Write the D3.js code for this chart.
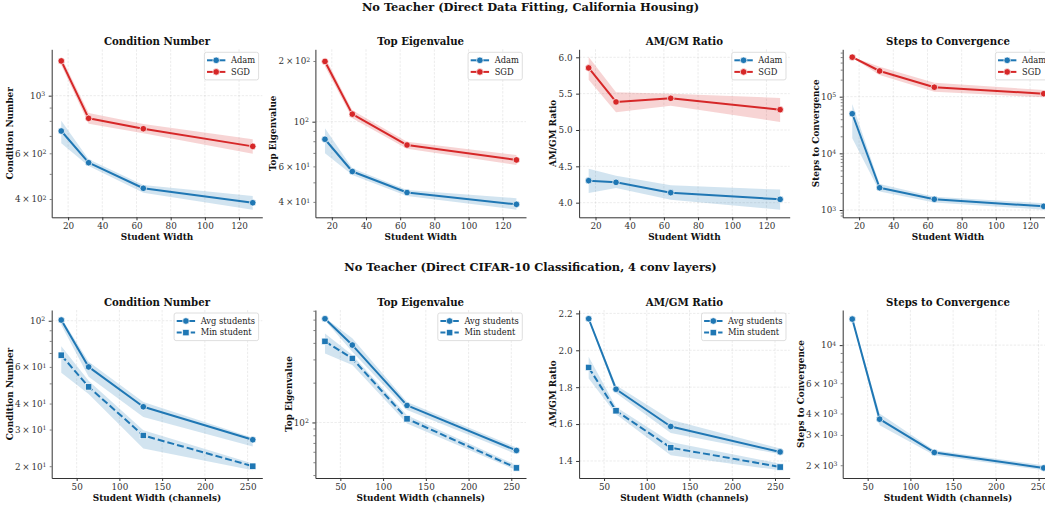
<!DOCTYPE html>
<html>
<head>
<meta charset="utf-8">
<script src="https://cdn.jsdelivr.net/npm/d3@7"></script>
<style>
  body { margin: 0; background: #fff; }
  svg { font-family: "DejaVu Serif", serif; }
</style>
</head>
<body>
<div id="chart"></div>
<script>
// student widths
var widthsHousing = [16, 32, 64, 128];
var widthsCifar = [32, 64, 128, 256];

// x tick labels
var xTicksHousing = [20, 40, 60, 80, 100, 120];
var xTicksCifar = [50, 100, 150, 200, 250];

// California housing: condition number
var condAdam = [731, 552, 440, 387];
var condAdamLo = [656, 536, 423, 364];
var condAdamHi = [801, 569, 453, 411];
var condSgd = [1361, 818, 746, 638];
var condSgdLo = [1310, 780, 716, 597];
var condSgdHi = [1410, 858, 778, 680];

// California housing: top eigenvalue
var eigAdam = [81.8, 56.6, 44.5, 38.9];
var eigAdamLo = [69.7, 54.4, 42.8, 36.6];
var eigAdamHi = [92.7, 58.8, 45.8, 41.7];
var eigSgd = [199, 109, 76.6, 64.6];
var eigSgdLo = [188, 104, 73.3, 61];
var eigSgdHi = [209.5, 114, 79.6, 68.4];

// California housing: AM/GM ratio
var amgmAdam = [4.303, 4.28, 4.138, 4.046];
var amgmAdamLo = [4.134, 4.203, 4.042, 3.904];
var amgmAdamHi = [4.468, 4.372, 4.239, 4.18];
var amgmSgd = [5.854, 5.386, 5.436, 5.28];
var amgmSgdLo = [5.69, 5.243, 5.335, 5.111];
var amgmSgdHi = [6.005, 5.518, 5.50, 5.441];

// California housing: steps to convergence
var stepsAdam = [50000, 2470, 1545, 1161];
var stepsAdamLo = [18500, 2113, 1352, 1014];
var stepsAdamHi = [74000, 2880, 1722, 1318];
var stepsSgd = [498000, 284000, 147000, 113000];
var stepsSgdLo = [485000, 241000, 122000, 97500];
var stepsSgdHi = [503000, 338000, 177000, 131000];

// CIFAR-10: condition number
var cifCondAvg = [100.8, 60, 38.6, 26.8];
var cifCondAvgLo = [95.3, 53.8, 34.5, 24.9];
var cifCondAvgHi = [103.5, 63.5, 40.7, 27.4];
var cifCondMin = [68.3, 48.1, 28.1, 20];
var cifCondMinLo = [56.2, 44.5, 24.3, 19.1];
var cifCondMinHi = [75.5, 51.5, 29.8, 20.6];

// CIFAR-10: top eigenvalue
var cifEigAvg = [609, 385, 134.5, 61.4];
var cifEigAvgLo = [590, 343, 124, 57.5];
var cifEigAvgHi = [621, 433, 143, 64.7];
var cifEigMin = [411, 305, 106.5, 45.3];
var cifEigMinLo = [333, 272, 98.3, 43.4];
var cifEigMinHi = [472, 324, 113.5, 47.5];

// CIFAR-10: AM/GM ratio
var cifAmgmAvg = [2.171, 1.789, 1.587, 1.449];
var cifAmgmAvgLo = [2.16, 1.769, 1.552, 1.436];
var cifAmgmAvgHi = [2.177, 1.811, 1.624, 1.467];
var cifAmgmMin = [1.907, 1.672, 1.472, 1.367];
var cifAmgmMinLo = [1.847, 1.653, 1.431, 1.349];
var cifAmgmMinHi = [1.965, 1.693, 1.503, 1.385];

// CIFAR-10: steps to convergence
var cifStepsAvg = [14170, 3707, 2373, 1929];
var cifStepsAvgLo = [13890, 3420, 2285, 1867];
var cifStepsAvgHi = [14450, 4000, 2445, 2000];

var suptitles = ["No Teacher (Direct Data Fitting, California Housing)",
                 "No Teacher (Direct CIFAR-10 Classification, 4 conv layers)"];

var blue = "#1f77b4", red = "#d62728";

// layout
var colLeft = [51.7, 315.4, 579.1, 842.7];
var plotW = 210.6;
var rowTop = [49.3, 310];
var plotH = 168;
var figCenter = 530.5;

function ser(name, color, y, lo, hi, marker, dashed) {
  return {name: name, color: color, y: y, lo: lo, hi: hi, marker: marker, dashed: dashed};
}

var panels = [
  {row: 0, col: 0, title: "Condition Number", ylabel: "Condition Number", xlabel: "Student Width", log: true, xs: widthsHousing, xt: xTicksHousing,
   series: [ser("Adam", blue, condAdam, condAdamLo, condAdamHi, "circle", false),
            ser("SGD", red, condSgd, condSgdLo, condSgdHi, "circle", false)], legend: true},
  {row: 0, col: 1, title: "Top Eigenvalue", ylabel: "Top Eigenvalue", xlabel: "Student Width", log: true, xs: widthsHousing, xt: xTicksHousing,
   series: [ser("Adam", blue, eigAdam, eigAdamLo, eigAdamHi, "circle", false),
            ser("SGD", red, eigSgd, eigSgdLo, eigSgdHi, "circle", false)], legend: true},
  {row: 0, col: 2, title: "AM/GM Ratio", ylabel: "AM/GM Ratio", xlabel: "Student Width", log: false, xs: widthsHousing, xt: xTicksHousing,
   series: [ser("Adam", blue, amgmAdam, amgmAdamLo, amgmAdamHi, "circle", false),
            ser("SGD", red, amgmSgd, amgmSgdLo, amgmSgdHi, "circle", false)], legend: true},
  {row: 0, col: 3, title: "Steps to Convergence", ylabel: "Steps to Convergence", xlabel: "Student Width", log: true, xs: widthsHousing, xt: xTicksHousing,
   series: [ser("Adam", blue, stepsAdam, stepsAdamLo, stepsAdamHi, "circle", false),
            ser("SGD", red, stepsSgd, stepsSgdLo, stepsSgdHi, "circle", false)], legend: true},
  {row: 1, col: 0, title: "Condition Number", ylabel: "Condition Number", xlabel: "Student Width (channels)", log: true, xs: widthsCifar, xt: xTicksCifar,
   series: [ser("Avg students", blue, cifCondAvg, cifCondAvgLo, cifCondAvgHi, "circle", false),
            ser("Min student", blue, cifCondMin, cifCondMinLo, cifCondMinHi, "square", true)], legend: true},
  {row: 1, col: 1, title: "Top Eigenvalue", ylabel: "Top Eigenvalue", xlabel: "Student Width (channels)", log: true, xs: widthsCifar, xt: xTicksCifar,
   series: [ser("Avg students", blue, cifEigAvg, cifEigAvgLo, cifEigAvgHi, "circle", false),
            ser("Min student", blue, cifEigMin, cifEigMinLo, cifEigMinHi, "square", true)], legend: true},
  {row: 1, col: 2, title: "AM/GM Ratio", ylabel: "AM/GM Ratio", xlabel: "Student Width (channels)", log: false, xs: widthsCifar, xt: xTicksCifar,
   series: [ser("Avg students", blue, cifAmgmAvg, cifAmgmAvgLo, cifAmgmAvgHi, "circle", false),
            ser("Min student", blue, cifAmgmMin, cifAmgmMinLo, cifAmgmMinHi, "square", true)], legend: true},
  {row: 1, col: 3, title: "Steps to Convergence", ylabel: "Steps to Convergence", xlabel: "Student Width (channels)", log: true, xs: widthsCifar, xt: xTicksCifar,
   series: [ser("Avg", blue, cifStepsAvg, cifStepsAvgLo, cifStepsAvgHi, "circle", false)], legend: false}
];

var tickFont = 8.8, labelFont = 8.9, titleFont = 10.2, legendFont = 8.3;

var svg = d3.select("#chart").append("svg")
    .attr("width", 1045)
    .attr("height", 505);

// figure titles
suptitles.forEach(function(t, i) {
  svg.append("text")
      .attr("x", figCenter)
      .attr("y", rowTop[i] - 38.6)
      .attr("text-anchor", "middle")
      .attr("font-weight", "bold")
      .attr("font-size", 11.4)
      .attr("fill", "#111")
      .text(t);
});

// matplotlib-style log ticks: every k * 10^e inside the domain
function logTicks(lo, hi) {
  var out = [];
  for (var e = Math.floor(Math.log10(lo)); e <= Math.ceil(Math.log10(hi)); e++) {
    for (var k = 1; k < 10; k++) {
      var v = k * Math.pow(10, e);
      if (v >= lo * 0.9999 && v <= hi * 1.0001) out.push({v: v, k: k, e: e});
    }
  }
  return out;
}

function drawMarker(g, shape, x, y, color) {
  if (shape === "square") {
    g.append("rect")
        .attr("x", x - 3.2).attr("y", y - 3.2)
        .attr("width", 6.4).attr("height", 6.4)
        .attr("fill", color).attr("stroke", "#fff").attr("stroke-width", 0.7);
  } else {
    g.append("circle")
        .attr("cx", x).attr("cy", y).attr("r", 3.3)
        .attr("fill", color).attr("stroke", "#fff").attr("stroke-width", 0.7);
  }
}

function gridStyle(sel) {
  sel.attr("stroke", "#b0b0b0").attr("stroke-opacity", 0.35)
     .attr("stroke-width", 0.7).attr("stroke-dasharray", "2.4,1.4");
}

panels.forEach(function(p) {
  var left = colLeft[p.col], top = rowTop[p.row];
  var g = svg.append("g").attr("transform", "translate(" + left + "," + top + ")");

  // x scale with 5% margins (like matplotlib)
  var xmin = d3.min(p.xs), xmax = d3.max(p.xs), xpad = (xmax - xmin) * 0.05;
  var x = d3.scaleLinear().domain([xmin - xpad, xmax + xpad]).range([0, plotW]);

  // y scale from band extents with 5% margins in the scale's own space
  var lo = d3.min(p.series, function(s) { return d3.min(s.lo); });
  var hi = d3.max(p.series, function(s) { return d3.max(s.hi); });
  var y;
  if (p.log) {
    var l0 = Math.log10(lo), l1 = Math.log10(hi), lp = (l1 - l0) * 0.05;
    y = d3.scaleLog().domain([Math.pow(10, l0 - lp), Math.pow(10, l1 + lp)]).range([plotH, 0]);
  } else {
    var pad = (hi - lo) * 0.05;
    y = d3.scaleLinear().domain([lo - pad, hi + pad]).range([plotH, 0]);
  }
  var dom = y.domain();

  var yMajor, yMinor = [], yLabels = {};
  if (p.log) {
    var all = logTicks(dom[0], dom[1]);
    var numdec = Math.log10(dom[1]) - Math.log10(dom[0]);
    var labelSet = numdec > 1 ? [1] : (numdec > 0.4 ? [1, 2, 3, 4, 6] : [1, 2, 3, 4, 5, 6, 7, 8, 9]);
    yMajor = all.filter(function(t) { return t.k === 1; });
    yMinor = all.filter(function(t) { return t.k !== 1; });
    all.forEach(function(t) { if (labelSet.indexOf(t.k) >= 0) yLabels[t.v] = t; });
  } else {
    yMajor = y.ticks(5).map(function(v) { return {v: v}; });
  }

  // grid
  g.append("g").selectAll("line")
      .data(p.xt)
    .enter().append("line")
      .attr("x1", function(d) { return x(d); }).attr("x2", function(d) { return x(d); })
      .attr("y1", 0).attr("y2", plotH)
      .call(gridStyle);
  g.append("g").selectAll("line")
      .data(yMajor)
    .enter().append("line")
      .attr("x1", 0).attr("x2", plotW)
      .attr("y1", function(d) { return y(d.v); }).attr("y2", function(d) { return y(d.v); })
      .call(gridStyle);

  // bands, lines, markers
  p.series.forEach(function(s) {
    var pts = p.xs.map(function(xv, i) { return {x: xv, lo: s.lo[i], hi: s.hi[i]}; });
    g.append("path")
        .datum(pts)
        .attr("fill", s.color).attr("fill-opacity", 0.2)
        .attr("d", d3.area()
          .x(function(d) { return x(d.x); })
          .y0(function(d) { return y(d.lo); })
          .y1(function(d) { return y(d.hi); }));
  });
  p.series.forEach(function(s) {
    var pts = p.xs.map(function(xv, i) { return {x: xv, y: s.y[i]}; });
    g.append("path")
        .datum(pts)
        .attr("fill", "none").attr("stroke", s.color).attr("stroke-width", 2)
        .attr("stroke-linejoin", "round")
        .attr("stroke-dasharray", s.dashed ? "7,3" : null)
        .attr("d", d3.line()
          .x(function(d) { return x(d.x); })
          .y(function(d) { return y(d.y); }));
    pts.forEach(function(d) { drawMarker(g, s.marker, x(d.x), y(d.y), s.color); });
  });

  // axes
  var xAxis = g.append("g")
      .attr("transform", "translate(0," + plotH + ")")
      .call(d3.axisBottom(x).tickValues(p.xt).tickSize(3).tickSizeOuter(0).tickPadding(2.3));
  xAxis.select(".domain").attr("stroke", "#333");
  xAxis.selectAll(".tick line").attr("stroke", "#333");
  xAxis.selectAll(".tick text").attr("font-size", tickFont).attr("fill", "#333")
      .attr("font-family", "DejaVu Serif, serif");

  var yAxisG = g.append("g");
  if (yMinor.length) {
    var minorAx = yAxisG.append("g")
        .call(d3.axisLeft(y).tickValues(yMinor.map(function(t) { return t.v; }))
          .tickSize(2).tickSizeOuter(0).tickPadding(3.2).tickFormat(function() { return ""; }));
    minorAx.select(".domain").remove();
    minorAx.selectAll(".tick line").attr("stroke", "#333").attr("stroke-width", 0.6);
  }
  var majorAx = yAxisG.append("g")
      .call(d3.axisLeft(y).tickValues(yMajor.map(function(t) { return t.v; }))
        .tickSize(3).tickSizeOuter(0).tickPadding(3.5)
        .tickFormat(p.log ? function() { return ""; } : d3.format(".1f")));
  majorAx.select(".domain").attr("stroke", "#333");
  majorAx.selectAll(".tick line").attr("stroke", "#333");
  yAxisG.selectAll(".tick text").attr("font-size", tickFont).attr("fill", "#333")
      .attr("font-family", "DejaVu Serif, serif");

  if (p.log) {
    yAxisG.selectAll(".tick text").each(function(v) {
      var t = yLabels[v];
      if (!t) return;
      var el = d3.select(this);
      el.text("");
      el.append("tspan").text(t.k === 1 ? "10" : t.k + "\u2009\u00d7\u200910");
      el.append("tspan").attr("dy", "-0.42em").attr("font-size", "0.7em").text(String(t.e));
    });
  }

  // titles and labels
  g.append("text")
      .attr("x", plotW / 2).attr("y", -3.9)
      .attr("text-anchor", "middle").attr("font-weight", "bold")
      .attr("font-size", titleFont).attr("fill", "#111")
      .text(p.title);
  g.append("text")
      .attr("x", plotW / 2).attr("y", plotH + 22.6)
      .attr("text-anchor", "middle").attr("font-weight", "bold")
      .attr("font-size", labelFont).attr("fill", "#111")
      .text(p.xlabel);

  var bb = yAxisG.node().getBBox();
  g.append("text")
      .attr("transform", "translate(" + (bb.x - 2.2) + "," + (plotH / 2) + ") rotate(-90)")
      .attr("text-anchor", "middle").attr("font-weight", "bold")
      .attr("font-size", labelFont).attr("fill", "#111")
      .text(p.ylabel);

  // legend
  if (p.legend) {
    var lg = g.append("g");
    var box = lg.append("rect");
    var texts = [];
    p.series.forEach(function(s, i) {
      texts.push(lg.append("text")
          .attr("y", 11 + i * 11.6).attr("dy", "0.32em")
          .attr("font-size", legendFont).attr("fill", "#222")
          .text(s.name));
    });
    var tw = d3.max(texts, function(t) { return t.node().getComputedTextLength(); });
    var bw = 26.6 + tw + 3.5;
    var bx = plotW - 3.7 - bw;
    box.attr("x", bx).attr("y", 3).attr("width", bw).attr("height", 27.6)
        .attr("rx", 2).attr("fill", "#fff").attr("fill-opacity", 0.85)
        .attr("stroke", "#d5d5d5").attr("stroke-width", 0.8);
    p.series.forEach(function(s, i) {
      var ty = 11 + i * 11.6;
      lg.append("line")
          .attr("x1", bx + 2.6).attr("x2", bx + 21).attr("y1", ty).attr("y2", ty)
          .attr("stroke", s.color).attr("stroke-width", 2)
          .attr("stroke-dasharray", s.dashed ? "5,2" : null);
      drawMarker(lg, s.marker, bx + 11.8, ty, s.color);
      texts[i].attr("x", bx + 26.6);
    });
  }
});
</script>
</body>
</html>
